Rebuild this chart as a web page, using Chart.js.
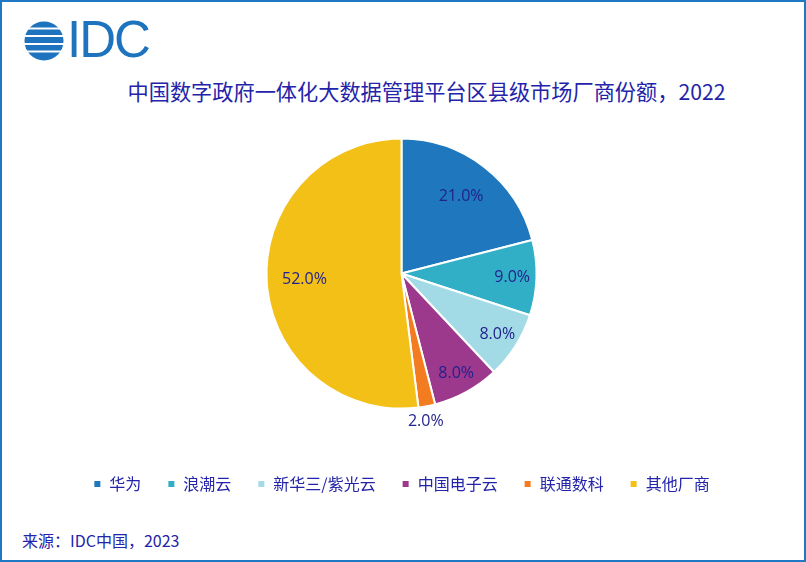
<!DOCTYPE html>
<html>
<head>
<meta charset="utf-8">
<script src="https://cdn.jsdelivr.net/npm/chart.js@4.4.1/dist/chart.umd.min.js"></script>
<style>
  html, body { margin: 0; padding: 0; background: #fff; }
  #page { position: relative; width: 806px; height: 562px; box-sizing: border-box; border: 2px solid #1f78c4; overflow: hidden; font-family: "Noto Sans CJK SC", "Noto Sans", sans-serif; }
  #logo { position: absolute; left: 21px; top: 19px; }
  #idc { position: absolute; left: 65px; top: 10px; font-family: "Liberation Sans", Arial, sans-serif; font-size: 51px; color: #1e73be; letter-spacing: -2px; line-height: 56px; }
  #title { position: absolute; left: 0; width: 849px; top: 73px; text-align: center; font-size: 21.2px; color: #2424aa; }
  #source { position: absolute; left: 20px; top: 526px; font-size: 16px; color: #2424aa; }
  #wrap { position: absolute; left: 0; top: 116px; width: 802px; height: 402px; }
</style>
</head>
<body>
<div id="page">
  <svg id="logo" width="42" height="40" viewBox="0 0 42 40">
    <defs><clipPath id="c"><circle cx="21" cy="20" r="19.5"/></clipPath></defs>
    <g clip-path="url(#c)" fill="#1e73be">
      <rect x="0" y="0" width="42" height="6.5"/>
      <rect x="0" y="8.5" width="42" height="5.5"/>
      <rect x="0" y="16" width="42" height="6"/>
      <rect x="0" y="24" width="42" height="5.5"/>
      <rect x="0" y="31.5" width="42" height="9"/>
    </g>
  </svg>
  <div id="idc">IDC</div>
  <div id="title">中国数字政府一体化大数据管理平台区县级市场厂商份额，2022</div>
  <div id="wrap"><canvas id="pie"></canvas></div>
  <div id="source">来源：IDC中国，2023</div>
</div>
<script>
const vendors = ['华为', '浪潮云', '新华三/紫光云', '中国电子云', '联通数科', '其他厂商'];
const shares = [21.0, 9.0, 8.0, 8.0, 2.0, 52.0];
const colors = ['#1f78bd', '#31afc7', '#a2dbe6', '#9c398d', '#f47c20', '#f3c018'];

// percentage labels, placed like Excel's "best fit"
const labelPlugin = {
  id: 'sliceLabels',
  afterDatasetsDraw(chart) {
    const ctx = chart.ctx;
    const meta = chart.getDatasetMeta(0);
    ctx.save();
    ctx.font = '16px "Open Sans", "Noto Sans", sans-serif';
    ctx.fillStyle = '#22228c';
    ctx.textAlign = 'center';
    ctx.textBaseline = 'middle';
    meta.data.forEach((arc, i) => {
      const p = arc.getProps(['x', 'y', 'startAngle', 'endAngle', 'outerRadius'], true);
      const mid = (p.startAngle + p.endAngle) / 2;
      let r = p.outerRadius * (shares[i] < 10 ? 0.82 + (9 - shares[i]) * 0.02 : 0.72);
      if (shares[i] < 5) r = p.outerRadius + 16;
      let x = p.x + Math.cos(mid) * r;
      let y = p.y + Math.sin(mid) * r;
      if (shares[i] < 5) x -= 4;
      ctx.fillText(shares[i].toFixed(1) + '%', x, y);
    });
    ctx.restore();
  }
};

new Chart(document.getElementById('pie'), {
  type: 'pie',
  data: {
    labels: vendors,
    datasets: [{
      data: shares,
      backgroundColor: colors,
      borderColor: '#ffffff',
      borderWidth: 2
    }]
  },
  options: {
    responsive: true,
    maintainAspectRatio: false,
    animation: false,
    layout: { padding: { top: 19.5, left: 0, right: 3, bottom: 18 } },
    plugins: {
      tooltip: { enabled: false },
      legend: {
        position: 'bottom',
        title: { display: true, text: '', padding: { top: 26, bottom: 0 } },
        labels: {
          boxWidth: 8,
          boxHeight: 8,
          padding: 26,
          color: '#2424aa',
          font: { size: 16, family: '"Noto Sans CJK SC", sans-serif' }
        }
      }
    }
  },
  plugins: [labelPlugin]
});
</script>
</body>
</html>
